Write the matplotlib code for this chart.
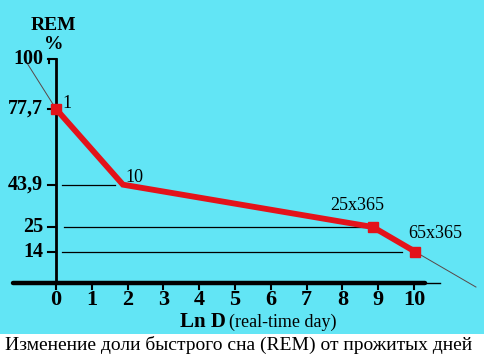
import matplotlib
matplotlib.use("Agg")
import matplotlib.pyplot as plt
from matplotlib.patches import Rectangle

# data
lnD = [0, 1.87, 8.85, 10.03]
rem = [77.7, 43.9, 25, 14]
point_labels = ["1", "10", "25x365", "65x365"]
with_marker = [0, 2, 3]

ytick_vals = [100, 77.7, 43.9, 25, 14]
ytick_text = ["100", "77,7", "43,9", "25", "14"]
xtick_vals = list(range(0, 11))

# thin extensions of the curve (start before point 1, end after last point)
ext_start = (-0.81, 98.2)
ext_end = (11.73, -1.8)

# horizontal guide lines: level, x from, x to
guide_y = [43.9, 25, 14]
guide_x0 = [0.17, 0.22, 0.17]
guide_x1 = [1.65, 8.77, 9.66]

bg = '#62e5f5'
red = '#e3121a'

W, H = 484, 357
x0px, xs = 56, 35.8   # pixel of x=0, pixels per unit
y0px, ys = 283, 2.24  # pixel of y=0 (from top), pixels per unit

fig = plt.figure(figsize=(W / 100, H / 100), dpi=100, facecolor=bg)
ax = fig.add_axes([0, 0, 1, 1])
ax.set_facecolor('none')
ax.set_xlim(-x0px / xs, (W - x0px) / xs)
ax.set_ylim(-(H - y0px) / ys, y0px / ys)
ax.axis('off')

# white caption strip
fig.patches.append(Rectangle((0, 0), 1, (H - 334) / H, transform=fig.transFigure,
                             facecolor='white', edgecolor='none', zorder=0))

serif = ['Liberation Serif', 'DejaVu Serif']

# axes lines
ax.plot([-1.2, 10.3], [0, 0], color='black', lw=3.2, solid_capstyle='round')
ax.plot([10.3, 10.73], [0, 0], color='black', lw=1)
ax.plot([0, 0], [0, 100], color='black', lw=2)

for v in xtick_vals:
    ax.plot([v, v], [0, -2.7], color='black', lw=1.5)
    ax.text(v, -7.8, str(v), ha='center', va='center', fontsize=16,
            fontweight='bold', family=serif)

for v, t in zip(ytick_vals, ytick_text):
    ax.plot([-0.22, 0], [v, v], color='black', lw=1.5)
    ax.text(-0.36, v, t, ha='right', va='center', fontsize=14.5,
            fontweight='bold', family=serif)
# little hook on the top tick
ax.plot([-0.19, -0.19], [100, 98.3], color='black', lw=1.5)

for gy, a, b in zip(guide_y, guide_x0, guide_x1):
    ax.plot([a, b], [gy, gy], color='black', lw=0.9)

# thin extensions
ax.plot([ext_start[0], lnD[0]], [ext_start[1], rem[0]], color='#5a4646', lw=0.7)
ax.plot([lnD[-1], ext_end[0]], [rem[-1], ext_end[1]], color='#5a4646', lw=0.7,
        clip_on=False)

# main curve
ax.plot(lnD, rem, color=red, lw=4.2, solid_joinstyle='miter', zorder=3)
ax.plot([lnD[i] for i in with_marker], [rem[i] for i in with_marker], 's',
        color=red, markersize=6.5, zorder=4)

# point labels
label_pos = [(0.31, 80.0), (2.18, 47.3), (8.41, 34.4), (10.59, 21.9)]
for (lx, ly), t in zip(label_pos, point_labels):
    ax.text(lx, ly, t, ha='center', va='center', fontsize=13, family=serif)

ax.text(-0.06, 115.0, "REM", ha='center', va='center', fontsize=14,
        fontweight='bold', family=serif)
ax.text(-0.06, 106.5, "%", ha='center', va='center', fontsize=14,
        fontweight='bold', family=serif)

ax.text(4.75, -17.6, "Ln D", ha='right', va='center', fontsize=15,
        fontweight='bold', family=serif)
ax.text(4.83, -17.6, "(real-time day)", ha='left', va='center', fontsize=13,
        family=serif)

fig.text(239 / W, 1 - 345 / H, "Изменение доли быстрого сна (REM) от прожитых дней",
         ha='center', va='center', fontsize=14, family=serif)

fig.savefig('out.png', dpi=100, facecolor=bg)
